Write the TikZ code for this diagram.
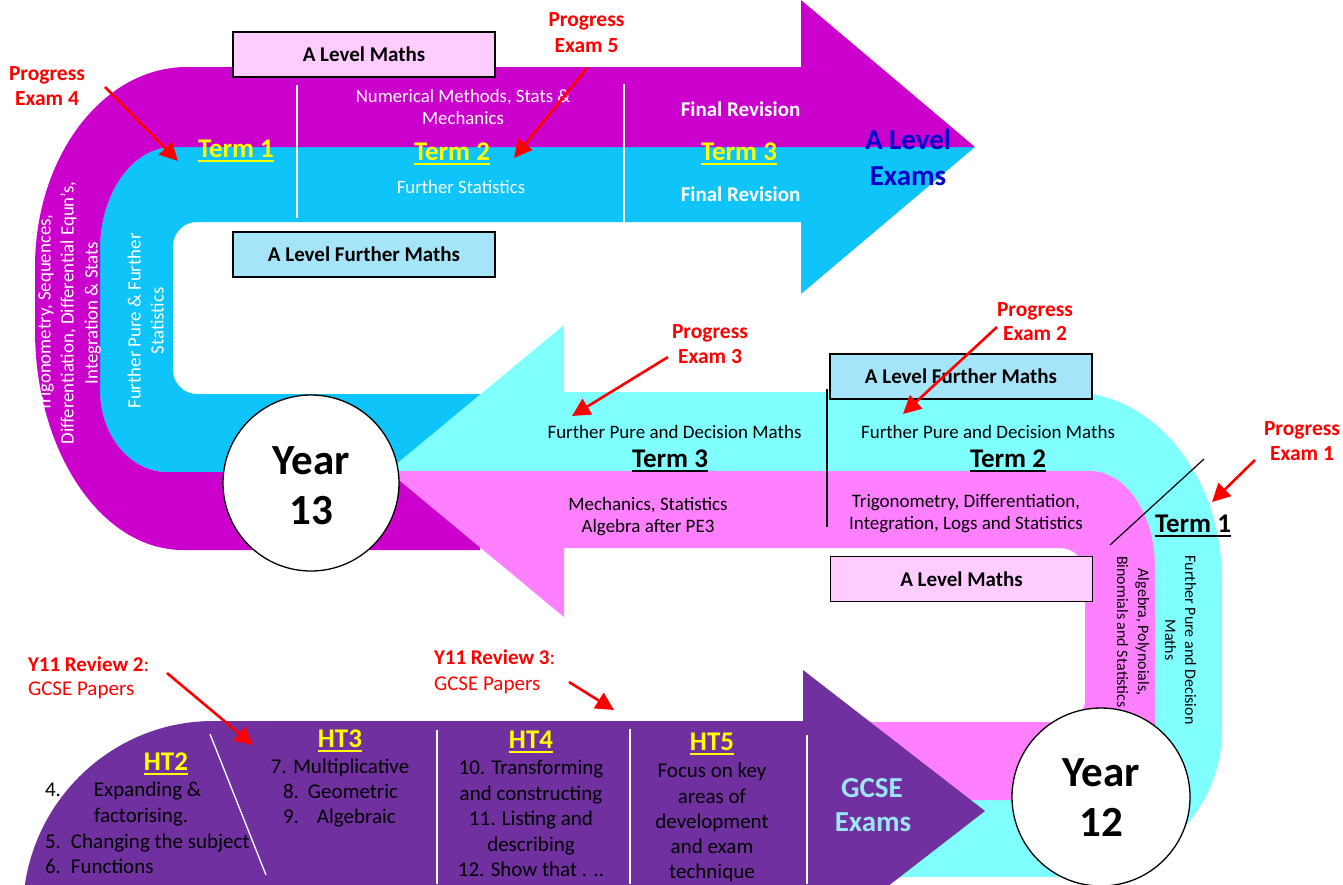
\documentclass[tikz,border=0pt]{standalone}
\usepackage{fontspec}
\setmainfont{Carlito}
\usetikzlibrary{arrows.meta}
\definecolor{pm}{HTML}{CC00CC}
\definecolor{dc}{HTML}{0FC4F8}
\definecolor{lc}{HTML}{80FFFF}
\definecolor{pk}{HTML}{FF80FF}
\definecolor{gp}{HTML}{7030A0}
\definecolor{bxp}{HTML}{FFCCFF}
\definecolor{bxb}{HTML}{A6E4FA}
\definecolor{dblue}{HTML}{0000C8}
\definecolor{gcb}{HTML}{9BE5F7}
\definecolor{yel}{HTML}{FFFF00}
\newcommand\ulx[1]{\setbox0\hbox{#1}\rlap{\vrule height -3pt depth 5pt width \wd0}\box0}
\tikzset{
  every node/.style={inner sep=0pt, outer sep=0pt},
  w18/.style={font=\fontsize{18.8}{22}\selectfont, text=white, anchor=base},
  b18/.style={font=\fontsize{19}{22}\selectfont, text=black, anchor=base},
  r16/.style={font=\fontsize{16}{19}\selectfont, text=black, anchor=base},
  wb20/.style={font=\fontsize{21}{25}\selectfont\bfseries, text=white, anchor=base},
  term/.style={font=\fontsize{27}{31}\selectfont\bfseries, anchor=base},
  big/.style={font=\fontsize{29}{33}\selectfont\bfseries, anchor=base},
  boxp/.style={draw=black, line width=1.8pt, fill=bxp, minimum width=262pt, minimum height=45pt, font=\fontsize{21}{25}\selectfont\bfseries},
  boxb/.style={draw=black, line width=1.8pt, fill=bxb, minimum width=262pt, minimum height=45pt, font=\fontsize{21}{25}\selectfont\bfseries},
  pe/.style={font=\fontsize{21.5}{25}\selectfont\bfseries, text=red, anchor=base},
  pen/.style={font=\fontsize{21}{25}\selectfont, text=red, anchor=base west},
  rarrow/.style={draw=red, line width=2.6pt, -{Triangle[length=18pt,width=18pt]}},
  yearc/.style={circle, draw=black, line width=1.3pt, fill=white},
  yeart/.style={font=\fontsize{43}{47}\selectfont\bfseries, anchor=base},
  g21/.style={font=\fontsize{21}{25}\selectfont, text=black, anchor=base},
  g21w/.style={font=\fontsize{21}{25}\selectfont, text=black, anchor=base west},
  wline/.style={draw=white, line width=1.3pt},
  kline/.style={draw=black, line width=1.2pt},
}
\begin{document}
\begin{tikzpicture}[x=1pt,y=-1pt]
\clip (0,0) rectangle (1343,884);
\fill[white] (0,0) rectangle (1343,884);
% ---------- Year 13 arrow (top) ----------
\fill[dc] (975,147) -- (801,294) -- (801,222) -- (197,222)
  .. controls (183.7,222) and (173,232.7) .. (173,246)
  -- (173,370) .. controls (173,383.3) and (183.7,394) .. (197,394)
  -- (480,394) -- (480,472) -- (167,472)
  .. controls (130,472) and (100,435.3) .. (100,390)
  -- (100,250) .. controls (100,192.6) and (132.7,147) .. (173,147) -- cycle;
\fill[pm] (801,0) -- (975,147) -- (173,147)
  .. controls (132.7,147) and (100,192.6) .. (100,250)
  -- (100,390) .. controls (100,435.3) and (130,472) .. (167,472)
  -- (480,472) -- (480,550) -- (183,550)
  .. controls (101.3,550) and (35,451.5) .. (35,330)
  -- (35,267) .. controls (35,156.5) and (103,67) .. (187,67)
  -- (801,67) -- cycle;
% ---------- Year 12 arrow (middle) ----------
\fill[lc] (564,325) -- (388,471) -- (1090,471)
  .. controls (1125.9,471) and (1155,514) .. (1155,567)
  -- (1155,732) .. controls (1155,769.6) and (1124.6,800) .. (1087,800)
  -- (850,800) -- (850,877) -- (1072,877)
  .. controls (1154.8,877) and (1222,811.2) .. (1222,730)
  -- (1222,580) .. controls (1222,476.2) and (1154,392) .. (1070,392)
  -- (564,392) -- cycle;
\fill[pk] (388,471) -- (564,617) -- (564,548) -- (1060,548)
  .. controls (1074.4,548) and (1085,559.6) .. (1085,574)
  -- (1085,700) .. controls (1085,712.2) and (1075.2,722) .. (1063,722)
  -- (850,722) -- (850,800) -- (1087,800)
  .. controls (1124.6,800) and (1155,769.6) .. (1155,732)
  -- (1155,567) .. controls (1155,514) and (1125.9,471) .. (1090,471) -- cycle;
% ---------- GCSE arrow (bottom) ----------
\fill[gp] (22,900) -- (25,884) .. controls (39,791) and (119,721) .. (213,721)
  -- (803,721) -- (803,670) -- (985,811) -- (803,952) -- (803,900) -- cycle;
% ---------- divider lines ----------
\draw[wline] (297,85) -- (297,218);
\draw[wline] (624,84) -- (624,222);
\draw[wline] (210,734) -- (266,875);
\draw[wline] (437,730) -- (437,884);
\draw[wline] (630,729) -- (630,884);
\draw[wline] (807,735) -- (807,884);
\draw[kline] (827,389) -- (827,527);
\draw[kline] (1110,545) -- (1204,459);
% ---------- boxes ----------
\node[boxp] (bx1) at (364,54.5) {A Level Maths};
\node[boxb] (bx2) at (364,254.5) {A Level Further Maths};
\node[boxb] (bx3) at (961,376.5) {A Level Further Maths};
\node[boxp] (bx4) at (961.5,579) {A Level Maths};
% ---------- top arrow texts ----------
\node[w18] (nm1) at (463,102) {Numerical Methods, Stats \&};
\node[w18] (nm2) at (463,124) {Mechanics};
\node[w18] (fs) at (461,193) {Further Statistics};
\node[term,text=yel] (tt1) at (236,157) {\ulx{Term 1}};
\node[term,text=yel] (tt2) at (452,160) {\ulx{Term 2}};
\node[term,text=yel] (tt3) at (739,160) {\ulx{Term 3}};
\node[wb20] (fr1) at (740.5,116.5) {Final Revision};
\node[wb20] (fr2) at (740.5,201) {Final Revision};
\node[big,text=dblue] (ax1) at (908,149) {A Level};
\node[big,text=dblue] (ax2) at (908,185) {Exams};
\node[w18,rotate=90] (lt1) at (50.7,313) {Trigonometry, Sequences,};
\node[w18,rotate=90] (lt2) at (73.7,313) {Differentiation, Differential Equn's,};
\node[w18,rotate=90] (lt3) at (97.7,313) {Integration \& Stats};
\node[w18,rotate=90] (ct1) at (140.7,321) {Further Pure \& Further};
\node[w18,rotate=90] (ct2) at (163.7,321) {Statistics};
% ---------- middle arrow texts ----------
\node[b18] (fp3) at (674.5,438) {Further Pure and Decision Maths};
\node[b18] (fp2) at (988,438) {Further Pure and Decision Maths};
\node[term,text=black] (mt3) at (670,467) {\ulx{Term 3}};
\node[term,text=black] (mt2) at (1008,467) {\ulx{Term 2}};
\node[term,text=black] (mt1) at (1193,532) {\ulx{Term 1}};
\node[b18] (ms1) at (648,510) {Mechanics, Statistics};
\node[b18] (ms2) at (648,532) {Algebra after PE3};
\node[b18] (tr1) at (966,507) {Trigonometry, Differentiation,};
\node[b18] (tr2) at (966,529) {Integration, Logs and Statistics};
\node[r16,rotate=-90] (ap1) at (1138,632) {Algebra, Polynoials,};
\node[r16,rotate=-90] (ap2) at (1117,632) {Binomials and Statistics};
\node[r16,rotate=-90] (fd1) at (1185,640) {Further Pure and Decision};
\node[r16,rotate=-90] (fd2) at (1165,640) {Maths};
% ---------- GCSE texts ----------
\node[term,text=yel] (ht2) at (166,770) {\ulx{HT2}};
\node[g21w] (h2a) at (45,796.6) {\makebox[49pt][l]{4.}Expanding \&};
\node[g21w] (h2b) at (94,822.6) {factorising.};
\node[g21w] (h2c) at (45,848.6) {\makebox[26pt][l]{5.}Changing the subject};
\node[g21w] (h2d) at (45,873.6) {\makebox[26pt][l]{6.}Functions};
\node[term,text=yel] (ht3) at (340,747) {\ulx{HT3}};
\node[g21] (h3a) at (340,773.6) {7. Multiplicative};
\node[g21w] (h3b) at (283,798.6) {\makebox[25pt][l]{8.}Geometric};
\node[g21w] (h3c) at (283,823.6) {\makebox[34pt][l]{9.}Algebraic};
\node[term,text=yel] (ht4) at (531,748) {\ulx{HT4}};
\node[g21] (h4a) at (531,774.6) {10. Transforming};
\node[g21] (h4b) at (531,800.6) {and constructing};
\node[g21] (h4c) at (531,825.6) {11. Listing and};
\node[g21] (h4d) at (531,851.6) {describing};
\node[g21] (h4e) at (531,876.6) {12. Show that . ..};
\node[term,text=yel] (ht5) at (712,750) {\ulx{HT5}};
\node[g21] (h5a) at (712,777.6) {Focus on key};
\node[g21] (h5b) at (712,803.6) {areas of};
\node[g21] (h5c) at (712,828.6) {development};
\node[g21] (h5d) at (712,853.6) {and exam};
\node[g21] (h5e) at (712,878.6) {technique};
\node[big,text=gcb] (gx1) at (872,797) {GCSE};
\node[big,text=gcb] (gx2) at (873,831) {Exams};
% ---------- year circles ----------
\node[yearc, minimum size=176pt] (y13) at (311,483) {};
\node[yeart] (y13a) at (311,474) {Year};
\node[yeart] (y13b) at (311,524) {13};
\node[yearc, minimum size=178pt] (y12) at (1101,797) {};
\node[yeart] (y12a) at (1101,786.5) {Year};
\node[yeart] (y12b) at (1101,836.5) {12};
% ---------- progress exams ----------
\node[pe] (pe4a) at (47,80.5) {Progress};
\node[pe] (pe4b) at (47,105.5) {Exam 4};
\node[pe] (pe5a) at (586.5,26.5) {Progress};
\node[pe] (pe5b) at (586.5,52.5) {Exam 5};
\node[pe] (pe3a) at (710,338.5) {Progress};
\node[pe] (pe3b) at (710,363.5) {Exam 3};
\node[pe] (pe2a) at (1035,316.5) {Progress};
\node[pe] (pe2b) at (1035,340.5) {Exam 2};
\node[pe] (pe1a) at (1302,435.5) {Progress};
\node[pe] (pe1b) at (1302,460.5) {Exam 1};
\node[pen] (rv2a) at (28,671.5) {\textbf{Y11 Review 2}:};
\node[pen] (rv2b) at (28,695.5) {GCSE Papers};
\node[pen] (rv3a) at (434,664.5) {\textbf{Y11 Review 3}:};
\node[pen] (rv3b) at (434,690.5) {GCSE Papers};
\coordinate (a4s) at (105,87);   \coordinate (a4e) at (178,161);
\coordinate (a5s) at (587,68);   \coordinate (a5e) at (514,158);
\coordinate (a3s) at (668,357);  \coordinate (a3e) at (572,416);
\coordinate (a2s) at (997,327);  \coordinate (a2e) at (903,414);
\coordinate (a1s) at (1255,460); \coordinate (a1e) at (1212,502);
\coordinate (r2s) at (167,673);  \coordinate (r2e) at (253,745);
\coordinate (r3s) at (569,682);  \coordinate (r3e) at (614,710);
\draw[rarrow] (a4s) -- (a4e);
\draw[rarrow] (a5s) -- (a5e);
\draw[rarrow] (a3s) -- (a3e);
\draw[rarrow] (a2s) -- (a2e);
\draw[rarrow] (a1s) -- (a1e);
\draw[rarrow] (r2s) -- (r2e);
\draw[rarrow] (r3s) -- (r3e);
\end{tikzpicture}
\end{document}
